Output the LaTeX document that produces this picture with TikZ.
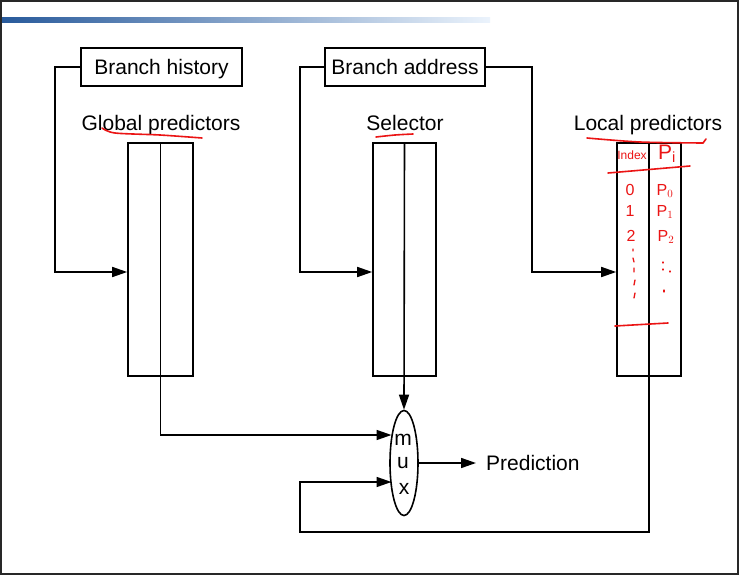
\documentclass[tikz,border=0pt]{standalone}
\usepackage{fontspec}
\setmainfont{Liberation Sans}
\usetikzlibrary{arrows.meta,shapes.geometric}
\definecolor{framegray}{RGB}{40,40,40}
\definecolor{barA}{RGB}{40,90,155}
\definecolor{barB}{RGB}{80,145,220}
\definecolor{barC}{RGB}{235,243,252}
\definecolor{pen}{RGB}{235,20,20}
\tikzset{
  ln/.style={line width=1.6pt, black},
  arr/.style={ln, -{Triangle[length=15pt,width=10pt]}},
  lbl/.style={font=\fontsize{21}{23}\selectfont, inner sep=0pt, text depth=0pt},
  boxed/.style={ln, draw, font=\fontsize{21}{23}\selectfont, minimum height=38pt, inner sep=0pt, text depth=0pt},
  tab/.style={ln, draw, minimum height=233pt, inner sep=0pt},
  ink/.style={pen, line width=1.6pt, line cap=round},
  inktext/.style={text=pen, inner sep=0pt, font=\fontsize{16}{18}\selectfont}
}
\begin{document}
\begin{tikzpicture}[x=1pt,y=-1pt]
\useasboundingbox (0,0) rectangle (740,576);
\fill[white] (0,0) rectangle (740,576);
% frame and top bar
\draw[framegray, line width=1.8pt] (1,1) rectangle (738,574);
\shade[left color=barA, middle color=barB, right color=barC] (2,17.5) rectangle (490,22.5);

% boxes and labels
\node[boxed, minimum width=161pt] (bh) at (161.5,67) {Branch history};
\node[boxed, minimum width=160pt] (ba) at (405,67) {Branch address};
\node[lbl] (gpl) at (161,123) {Global predictors};
\node[lbl] (sell) at (405,123) {Selector};
\node[lbl] (lpl) at (648,123) {Local predictors};

% tables
\node[tab, minimum width=65pt] (gp) at (160.5,259.5) {};
\node[tab, minimum width=63pt] (sel) at (404.5,259.5) {};
\node[tab, minimum width=64pt] (lp) at (649,259.5) {};
\draw[ln] (gp.north) -- (gp.south);
\draw[ln] (lp.north) -- (lp.south);

% mux
\node[ln, draw, ellipse, minimum width=28pt, minimum height=105pt, inner sep=0pt] (mux) at (404,463) {};
\node[lbl] (mm) at (403,440) {m};
\node[lbl] (mu) at (403,463) {u};
\node[lbl] (mx) at (404,489) {x};
\node[lbl, anchor=west, inner xsep=10pt] (pred) at (476,463) {Prediction};

% routing points
\coordinate (c1) at (55,272);
\coordinate (c2) at (300,272);
\coordinate (c3) at (532,272);
\coordinate (c4) at (300,532);
\coordinate (m1) at (391.5,435);
\coordinate (m2) at (391.5,482);

% connectors
\draw[arr] (bh.west) -| (c1) -- (gp.west |- c1);
\draw[arr] (ba.west) -| (c2) -- (sel.west |- c2);
\draw[arr] (ba.east) -| (c3) -- (lp.west |- c3);
\draw[arr] (sel.north) -- (mux.north);
\draw[arr] (gp.south) |- (m1);
\draw[arr] (lp.south) |- (c4) |- (m2);
\draw[arr] (mux.east) -- (pred.west);

% red annotations
\draw[ink] plot[smooth] coordinates {(102,128) (115,133) (160,135) (202,138)};
\draw[ink] plot[smooth] coordinates {(376,137) (395,135) (413,134)};
\draw[ink] plot[smooth] coordinates {(587,138) (640,142) (703,143)} -- (706,139);
\draw[ink] (608,173) -- (690,166);
\draw[ink] (615,326) -- (668,323);
\node[inktext, font=\fontsize{12}{13}\selectfont] (ix) at (632,155) {Index};
\node[inktext, font=\fontsize{21}{23}\selectfont] (pi) at (667,154) {P$_\mathrm{i}$};
\node[inktext] (r0) at (630,190) {0};
\node[inktext] (q0) at (665,191) {P$_0$};
\node[inktext] (r1) at (630,211) {1};
\node[inktext] (q1) at (665,212) {P$_1$};
\node[inktext] (r2) at (631,236) {2};
\node[inktext] (q2) at (666,237) {P$_2$};
\draw[ink, line width=1.3pt] (633,249) -- (633,251) (633,258) -- (634,262) (634,268) -- (634,272) (635,280) -- (634,285) (635,293) -- (634,298);
\draw[ink, line width=1.3pt] (663,262) -- (663,263) (663,269) -- (663,270) (670,271) -- (670,272) (664,290) -- (664,292);
\end{tikzpicture}
\end{document}
